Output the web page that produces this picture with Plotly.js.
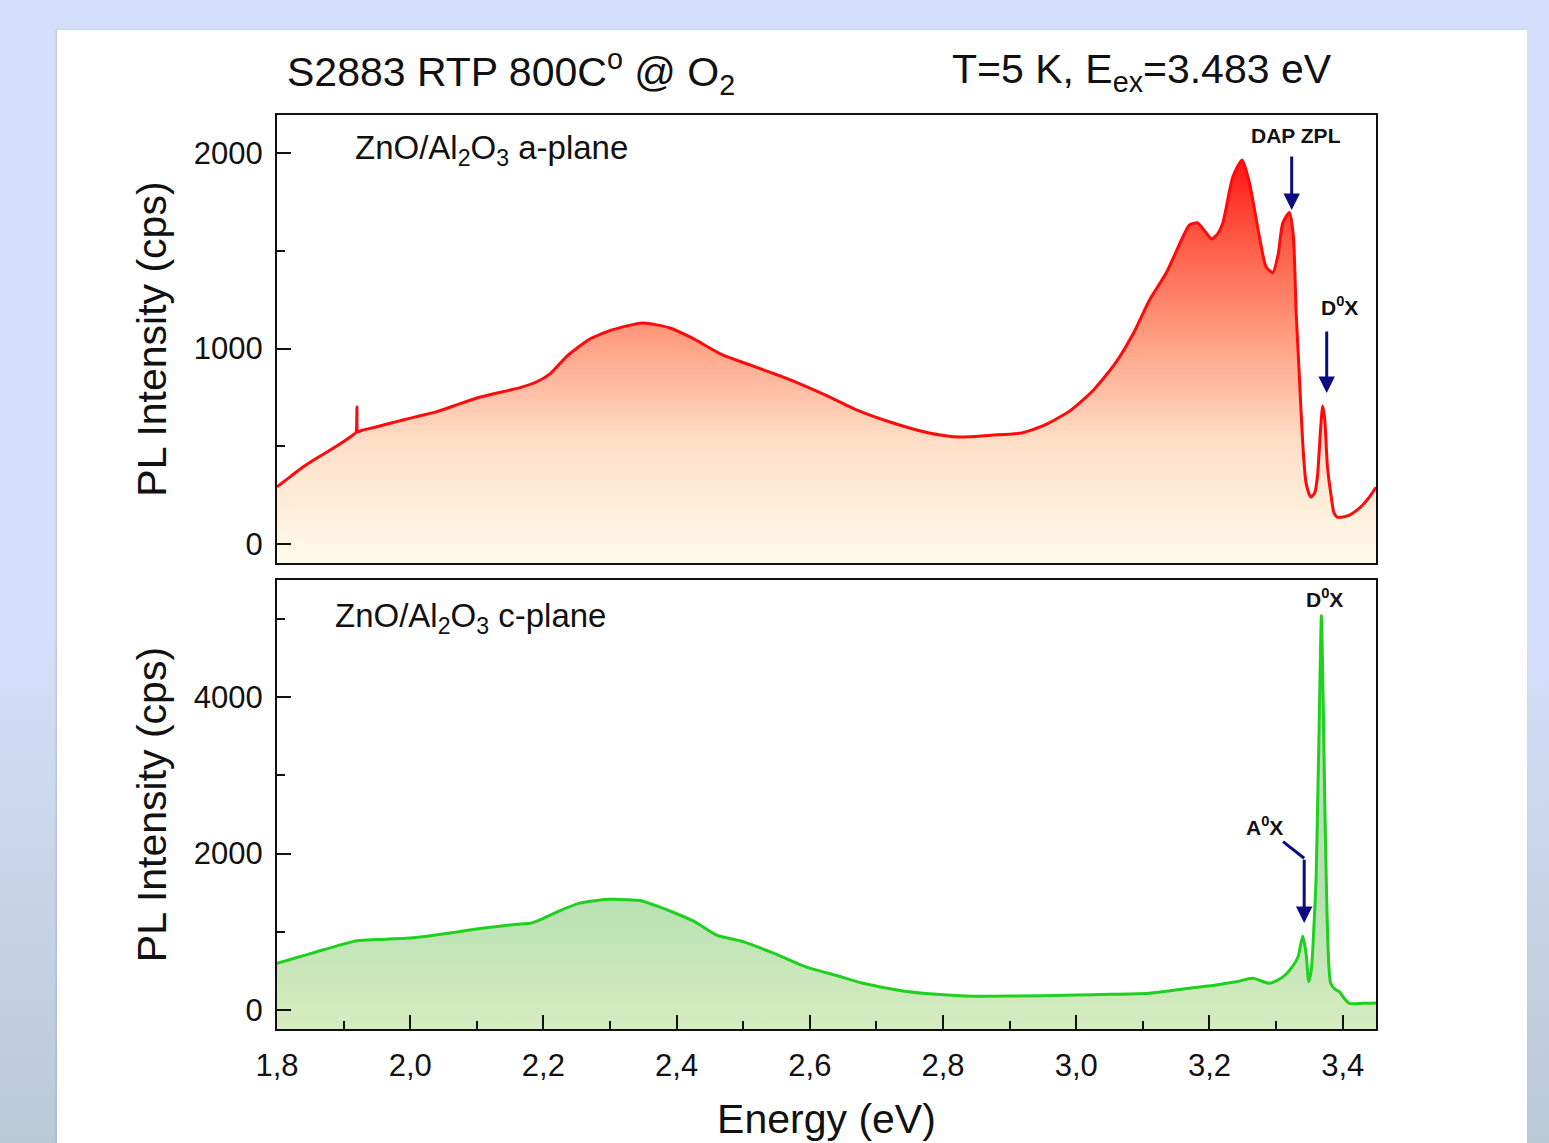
<!DOCTYPE html>
<html>
<head>
<meta charset="utf-8">
<script src="https://cdn.plot.ly/plotly-3.0.1.min.js"></script>
<style>
  html, body { margin:0; padding:0; width:1549px; height:1143px; overflow:hidden;
    background: linear-gradient(to bottom, #d4dffc 0%, #d4dffc 55%, #c6d3e6 80%, #bac9d6 100%); }
  #panel { position:absolute; left:57px; top:30px; width:1470px; height:1113px; background:#ffffff;
    box-shadow: -1px 0 2px rgba(120,140,170,0.35); }
  #chart { position:absolute; left:0; top:0; width:1549px; height:1143px; }
</style>
</head>
<body>
<div id="panel"></div>
<div id="chart"></div>
<script>
// ---- Data: a-plane (top panel) ----
const aEnergy = [1.800,1.820,1.839,1.860,1.880,1.900,1.914,1.9185,1.920,1.9215,1.929,1.950,1.970,1.989,2.015,2.040,2.070,2.100,2.139,2.165,2.190,2.210,2.235,2.268,2.303,2.349,2.390,2.423,2.469,2.510,2.564,2.617,2.671,2.725,2.779,2.825,2.872,2.918,2.953,2.992,3.026,3.059,3.086,3.110,3.135,3.160,3.170,3.182,3.193,3.203,3.212,3.220,3.235,3.249,3.260,3.275,3.285,3.295,3.303,3.310,3.320,3.326,3.330,3.335,3.340,3.345,3.352,3.358,3.362,3.367,3.370,3.373,3.377,3.382,3.387,3.392,3.400,3.410,3.420,3.430,3.440,3.450];
const aIntensity = [293,345,394,440,481,525,558,570,702,575,583,600,618,634,656,677,712,747,779,800,830,870,960,1045,1095,1130,1105,1054,967,916,849,772,685,619,568,547,557,568,609,685,788,926,1079,1248,1386,1570,1632,1642,1600,1560,1585,1642,1877,1964,1847,1570,1417,1388,1480,1642,1695,1572,1197,854,516,312,240,262,343,598,706,640,400,261,158,138,138,148,170,200,240,290];

// ---- Data: c-plane (bottom panel) ----
const cEnergy = [1.800,1.830,1.860,1.890,1.920,1.950,1.993,2.030,2.073,2.100,2.127,2.160,2.180,2.200,2.225,2.253,2.280,2.300,2.325,2.347,2.373,2.400,2.427,2.460,2.500,2.550,2.593,2.640,2.680,2.740,2.790,2.833,2.900,3.000,3.050,3.110,3.160,3.210,3.240,3.265,3.290,3.310,3.325,3.333,3.340,3.345,3.349,3.353,3.357,3.360,3.363,3.365,3.368,3.371,3.373,3.376,3.379,3.382,3.389,3.395,3.403,3.410,3.430,3.450];
const cIntensity = [597,670,745,820,886,900,916,950,1001,1035,1065,1095,1108,1172,1270,1363,1400,1414,1410,1397,1320,1230,1129,958,873,710,554,440,341,243,200,179,178,190,200,215,268,319,360,405,341,420,560,681,946,724,362,520,1100,1661,2900,3792,5040,3792,2700,1400,600,341,260,234,140,85,85,90];

// ---- Axis settings ----
const xRange = [1.8, 3.45];
const yRangeTop = [-97, 2194];
const yRangeBot = [-243, 5495];
const xTickVals = [1.8, 2.0, 2.2, 2.4, 2.6, 2.8, 3.0, 3.2, 3.4];
const xTickText = ['1,8','2,0','2,2','2,4','2,6','2,8','3,0','3,2','3,4'];
const yTickTop = [0, 1000, 2000];
const yTickBot = [0, 2000, 4000];

const FONT = 'Liberation Sans, Arial, sans-serif';
const NAVY = '#0c0c82';

const traces = [
  {x: xRange, y: [yRangeTop[0], yRangeTop[0]], xaxis:'x', yaxis:'y', mode:'lines',
   line:{width:0, color:'rgba(0,0,0,0)'}, hoverinfo:'skip', showlegend:false},
  {x: aEnergy, y: aIntensity, xaxis:'x', yaxis:'y', mode:'lines', fill:'tonexty',
   line:{color:'#ff0a0a', width:3, shape:'spline', smoothing:0.6},
   fillgradient:{type:'vertical', start: yRangeTop[0], stop: 1964,
     colorscale:[[0,'#fffbea'],[0.3,'#ffdfc8'],[0.55,'#ffa084'],[0.8,'#ff5a45'],[1,'#ff1414']]},
   showlegend:false},
  {x: xRange, y: [yRangeBot[0], yRangeBot[0]], xaxis:'x2', yaxis:'y2', mode:'lines',
   line:{width:0, color:'rgba(0,0,0,0)'}, hoverinfo:'skip', showlegend:false},
  {x: cEnergy, y: cIntensity, xaxis:'x2', yaxis:'y2', mode:'lines', fill:'tonexty',
   line:{color:'#1fd01f', width:3, shape:'spline', smoothing:0.6},
   fillgradient:{type:'vertical', start: yRangeBot[0], stop: 1450,
     colorscale:[[0,'#d6ecc1'],[1,'#b7e1b2']]},
   showlegend:false}
];

const axisCommon = {
  showline:true, linecolor:'#111', linewidth:2, mirror:true,
  ticks:'inside', ticklen:14, tickwidth:2, tickcolor:'#111',
  showgrid:false, zeroline:false,
  tickfont:{family:FONT, size:31, color:'#111'}
};

const layout = {
  width:1549, height:1143,
  paper_bgcolor:'rgba(0,0,0,0)', plot_bgcolor:'rgba(0,0,0,0)',
  margin:{l:277, r:173, t:115, b:114},
  showlegend:false,
  xaxis: Object.assign({}, axisCommon, {domain:[0,1], range:xRange, anchor:'y',
    showticklabels:false, ticks:'', matches:'x2'}),
  yaxis: Object.assign({}, axisCommon, {domain:[0.5098,1], range:yRangeTop, anchor:'x',
    tickvals:yTickTop, ticklabelstandoff:6,
    minor:{dtick:500, ticks:'inside', ticklen:8, tickwidth:2, tickcolor:'#111', showgrid:false},
    title:{text:'PL Intensity (cps)', font:{family:FONT, size:41, color:'#111'}, standoff:14}}),
  xaxis2: Object.assign({}, axisCommon, {domain:[0,1], range:xRange, anchor:'y2',
    tickvals:xTickVals, ticktext:xTickText, ticklabelstandoff:8,
    minor:{dtick:0.1, tick0:1.8, ticks:'inside', ticklen:8, tickwidth:2, tickcolor:'#111', showgrid:false},
    title:{text:'Energy (eV)', font:{family:FONT, size:41, color:'#111'}, standoff:22}}),
  yaxis2: Object.assign({}, axisCommon, {domain:[0,0.4912], range:yRangeBot, anchor:'x2',
    tickvals:yTickBot, ticklabelstandoff:6,
    minor:{dtick:1000, ticks:'inside', ticklen:8, tickwidth:2, tickcolor:'#111', showgrid:false},
    title:{text:'PL Intensity (cps)', font:{family:FONT, size:41, color:'#111'}, standoff:14}}),
  annotations: [
    {xref:'paper', yref:'paper', x:0.0073, y:1.047, xanchor:'left', yanchor:'middle', showarrow:false,
     text:'S2883 RTP 800C<sup>o</sup> @ O<sub>2</sub>', font:{family:FONT, size:41, color:'#111'}},
    {xref:'paper', yref:'paper', x:0.6120, y:1.047, xanchor:'left', yanchor:'middle', showarrow:false,
     text:'T=5 K, E<sub>ex</sub>=3.483 eV', font:{family:FONT, size:41, color:'#111'}},
    {xref:'x', yref:'y domain', x:1.914, y:0.922, xanchor:'left', yanchor:'middle', showarrow:false,
     text:'ZnO/Al<sub>2</sub>O<sub>3</sub> a-plane', font:{family:FONT, size:33, color:'#111'}},
    {xref:'x2', yref:'y2 domain', x:1.884, y:0.915, xanchor:'left', yanchor:'middle', showarrow:false,
     text:'ZnO/Al<sub>2</sub>O<sub>3</sub> c-plane', font:{family:FONT, size:33, color:'#111'}},
    {xref:'x', yref:'y', x:3.3295, y:2087, showarrow:false, text:'<b>DAP ZPL</b>',
     font:{family:FONT, size:21, color:'#111'}},
    {xref:'x', yref:'y', x:3.3955, y:1217, showarrow:false, text:'<b>D<sup>0</sup>X</b>',
     font:{family:FONT, size:21, color:'#111'}},
    {xref:'x2', yref:'y2', x:3.373, y:5265, showarrow:false, text:'<b>D<sup>0</sup>X</b>',
     font:{family:FONT, size:21, color:'#111'}},
    {xref:'x2', yref:'y2', x:3.283, y:2351, showarrow:false, text:'<b>A<sup>0</sup>X</b>',
     font:{family:FONT, size:21, color:'#111'}},
    {xref:'x', yref:'y', axref:'x', ayref:'y', x:3.3234, y:1708, ax:3.3234, ay:1990, text:'',
     showarrow:true, arrowhead:2, arrowsize:1.1, arrowwidth:3, arrowcolor:NAVY},
    {xref:'x', yref:'y', axref:'x', ayref:'y', x:3.376, y:772, ax:3.376, ay:1095, text:'',
     showarrow:true, arrowhead:2, arrowsize:1.1, arrowwidth:3, arrowcolor:NAVY},
    {xref:'x2', yref:'y2', axref:'x2', ayref:'y2', x:3.3422, y:1112, ax:3.3422, ay:1939, text:'',
     showarrow:true, arrowhead:2, arrowsize:1.1, arrowwidth:3, arrowcolor:NAVY}
  ],
  shapes: [
    {type:'line', xref:'x2', yref:'y2', x0:3.3104, y0:2151, x1:3.3422, y1:1939,
     line:{color:NAVY, width:3}}
  ]
};

Plotly.newPlot('chart', traces, layout, {displayModeBar:false, staticPlot:true});
</script>
</body>
</html>
